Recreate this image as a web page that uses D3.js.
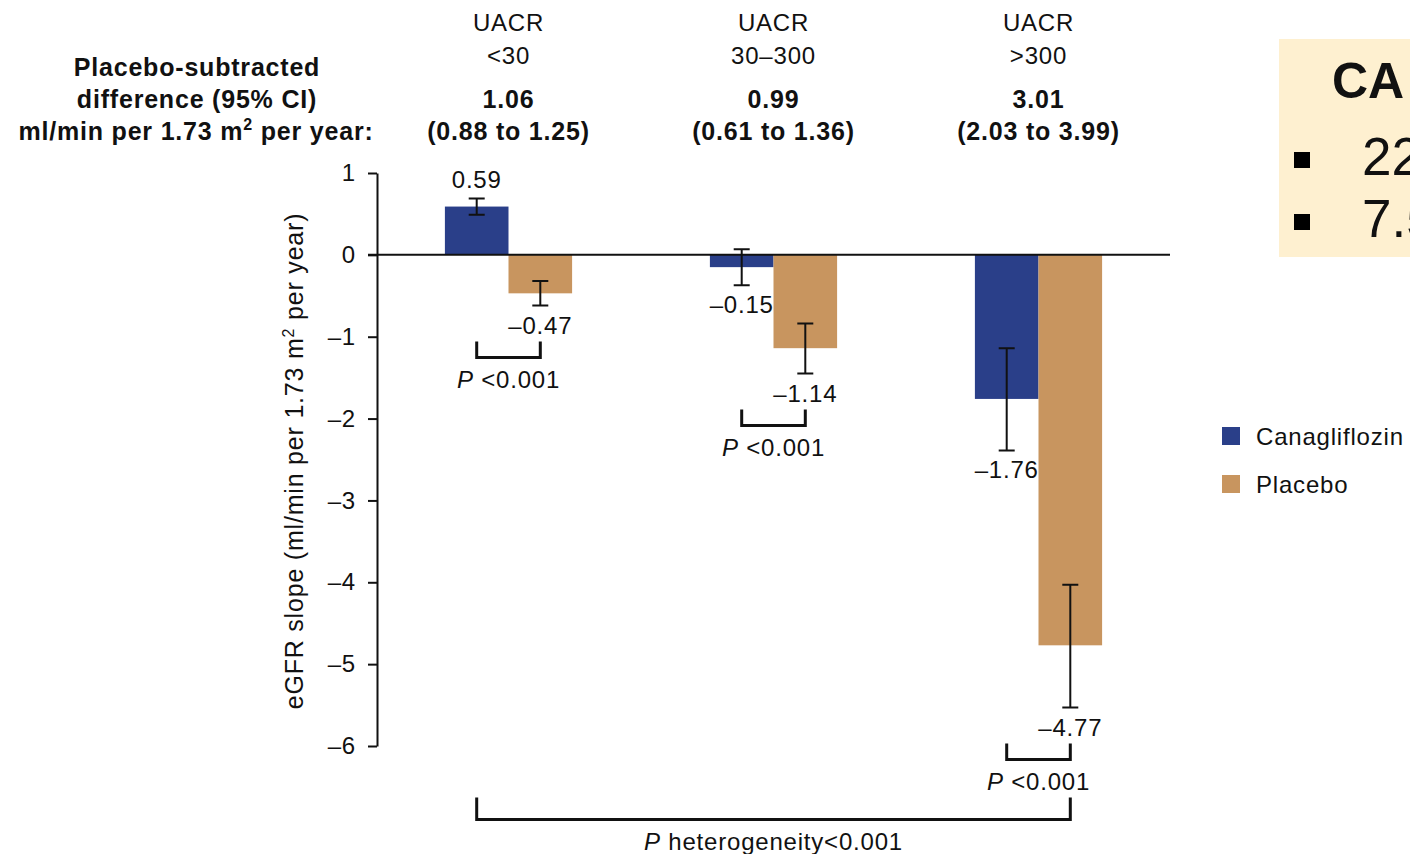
<!DOCTYPE html>
<html>
<head>
<meta charset="utf-8">
<script src="https://cdn.jsdelivr.net/npm/d3@7"></script>
<style>
  body { margin: 0; background: #fff; }
  text { font-family: "Liberation Sans", Arial, Helvetica, sans-serif; fill: #111; letter-spacing: 0.8px; }
</style>
</head>
<body>
<div id="chart"></div>
<script>
/*********************************************************** DATA *****/

const groups = ["<30", "30–300", ">300"];
const diffs = ["1.06", "0.99", "3.01"];
const diffCI = ["(0.88 to 1.25)", "(0.61 to 1.36)", "(2.03 to 3.99)"];
const series = ["Canagliflozin", "Placebo"];
const canaValues = [0.59, -0.15, -1.76];
const canaLow = [0.49, -0.37, -2.39];
const canaHigh = [0.69, 0.07, -1.14];
const placeboValues = [-0.47, -1.14, -4.77];
const placeboLow = [-0.62, -1.45, -5.53];
const placeboHigh = [-0.32, -0.84, -4.03];
const pLabels = ["<0.001", "<0.001", "<0.001"];
const yTicks = [1, 0, -1, -2, -3, -4, -5, -6];
const boxLines = ["22", "7.5"];

const colors = { "Canagliflozin": "#2a3f89", "Placebo": "#c8955f" };

/********************************************************** SETUP *****/

const width = 1410, height = 854;

const svg = d3.select("#chart")
  .append("svg")
  .attr("width", width)
  .attr("height", height);

const y = d3.scaleLinear()
  .domain([-6, 1])
  .range([746, 173]);

const x0 = d3.scaleBand()
  .domain(groups)
  .range([376, 1171])
  .paddingInner(0.52)
  .paddingOuter(0.26);

const x1 = d3.scaleBand()
  .domain(series)
  .range([0, x0.bandwidth()]);

const bars = [];
groups.forEach(function(g, i) {
  bars.push({ group: g, serie: "Canagliflozin", v: canaValues[i], lo: canaLow[i], hi: canaHigh[i] });
  bars.push({ group: g, serie: "Placebo", v: placeboValues[i], lo: placeboLow[i], hi: placeboHigh[i] });
});
const cx = function(d) { return x0(d.group) + x1(d.serie) + x1.bandwidth() / 2; };

/*********************************************************** AXIS *****/

const axisX = 377;
const yAxis = svg.append("g")
  .attr("transform", "translate(" + axisX + ",0)")
  .call(d3.axisLeft(y)
    .tickValues(yTicks)
    .tickSize(9)
    .tickSizeOuter(0)
    .tickPadding(12)
    .tickFormat(function(d) { return d < 0 ? "–" + Math.abs(d) : d; }));
yAxis.select(".domain").attr("stroke", "#111").attr("stroke-width", 2);
yAxis.selectAll(".tick line").attr("stroke", "#111").attr("stroke-width", 2);
yAxis.selectAll(".tick text")
  .attr("fill", "#111")
  .style("font-size", "24px")
  .style("font-family", "'Liberation Sans', Arial, sans-serif");

const yLabel = svg.append("text")
  .attr("transform", "translate(303,461) rotate(-90)")
  .attr("text-anchor", "middle")
  .style("font-size", "25px");
yLabel.append("tspan").text("eGFR slope (ml/min per 1.73 m");
yLabel.append("tspan").attr("dy", -9).style("font-size", "16px").text("2");
yLabel.append("tspan").attr("dy", 9).text(" per year)");

/*********************************************************** BARS *****/

svg.append("g").selectAll("rect")
  .data(bars)
  .enter()
  .append("rect")
  .attr("x", function(d) { return x0(d.group) + x1(d.serie); })
  .attr("width", x1.bandwidth())
  .attr("y", function(d) { return y(Math.max(0, d.v)); })
  .attr("height", function(d) { return Math.abs(y(d.v) - y(0)); })
  .attr("fill", function(d) { return colors[d.serie]; });

// zero line
svg.append("line")
  .attr("x1", axisX - 9).attr("x2", 1170)
  .attr("y1", y(0)).attr("y2", y(0))
  .attr("stroke", "#111")
  .attr("stroke-width", 2);

// error bars
const err = svg.append("g")
  .attr("stroke", "#111")
  .attr("stroke-width", 2)
  .attr("fill", "none");
err.selectAll("path")
  .data(bars)
  .enter()
  .append("path")
  .attr("d", function(d) {
    const c = cx(d), w = 8;
    return "M" + (c - w) + "," + y(d.hi) + "H" + (c + w) +
      "M" + c + "," + y(d.hi) + "V" + y(d.lo) +
      "M" + (c - w) + "," + y(d.lo) + "H" + (c + w);
  });

// value labels
svg.append("g").selectAll("text")
  .data(bars)
  .enter()
  .append("text")
  .attr("x", cx)
  .attr("y", function(d) { return d.v > 0 ? y(d.hi) - 10 : y(d.lo) + 28; })
  .attr("text-anchor", "middle")
  .style("font-size", "24px")
  .text(function(d) { return d.v < 0 ? "–" + Math.abs(d.v).toFixed(2) : d.v.toFixed(2); });

/******************************************************* BRACKETS *****/

const brk = svg.append("g");
let lastPBase = 0;
groups.forEach(function(g, i) {
  const xa = x0(g) + x1("Canagliflozin") + x1.bandwidth() / 2;
  const xb = x0(g) + x1("Placebo") + x1.bandwidth() / 2;
  const top = y(Math.min(canaLow[i], placeboLow[i])) + 36;
  const bottom = top + 16;
  brk.append("path")
    .attr("d", "M" + xa + "," + top + "V" + bottom + "H" + xb + "V" + top)
    .attr("fill", "none")
    .attr("stroke", "#111")
    .attr("stroke-width", 3);
  const t = brk.append("text")
    .attr("x", (xa + xb) / 2)
    .attr("y", bottom + 30)
    .attr("text-anchor", "middle")
    .style("font-size", "24px");
  t.append("tspan").style("font-style", "italic").text("P");
  t.append("tspan").text(" " + pLabels[i]);
  lastPBase = bottom + 30;
});

const hx1 = x0(groups[0]) + x1("Canagliflozin") + x1.bandwidth() / 2;
const hx2 = x0(groups[2]) + x1("Placebo") + x1.bandwidth() / 2;
const hTop = lastPBase + 8, hBottom = hTop + 22;
brk.append("path")
  .attr("d", "M" + hx1 + "," + hTop + "V" + hBottom + "H" + hx2 + "V" + hTop)
  .attr("fill", "none")
  .attr("stroke", "#111")
  .attr("stroke-width", 3);
const ht = brk.append("text")
  .attr("x", (hx1 + hx2) / 2)
  .attr("y", hBottom + 30)
  .attr("text-anchor", "middle")
  .style("font-size", "24px");
ht.append("tspan").style("font-style", "italic").text("P");
ht.append("tspan").text(" heterogeneity<0.001");

/********************************************************* HEADER *****/

const head = svg.append("g").attr("text-anchor", "middle");
groups.forEach(function(g, i) {
  const c = x0(g) + x0.bandwidth() / 2;
  head.append("text").attr("x", c).attr("y", 31).style("font-size", "24px").text("UACR");
  head.append("text").attr("x", c).attr("y", 64).style("font-size", "24px").text(g);
  head.append("text").attr("x", c).attr("y", 108).style("font-size", "25px").style("font-weight", "bold").text(diffs[i]);
  head.append("text").attr("x", c).attr("y", 140).style("font-size", "25px").style("font-weight", "bold").text(diffCI[i]);
});

const left = svg.append("g")
  .attr("text-anchor", "middle")
  .style("font-weight", "bold")
  .style("font-size", "25px");
left.append("text").attr("x", 197).attr("y", 76).text("Placebo-subtracted");
left.append("text").attr("x", 197).attr("y", 108).text("difference (95% CI)");
const unit = left.append("text").attr("x", 196).attr("y", 140);
unit.append("tspan").text("ml/min per 1.73 m");
unit.append("tspan").attr("dy", -10).style("font-size", "16px").text("2");
unit.append("tspan").attr("dy", 10).text(" per year:");

/********************************************************* LEGEND *****/

const legend = svg.append("g").selectAll("g")
  .data(series)
  .enter()
  .append("g")
  .attr("transform", function(d, i) { return "translate(1222," + (427 + i * 48) + ")"; });
legend.append("rect")
  .attr("width", 18).attr("height", 18)
  .attr("fill", function(d) { return colors[d]; });
legend.append("text")
  .attr("x", 34).attr("y", 18)
  .style("font-size", "24px")
  .text(function(d) { return d; });

/************************************************************ BOX *****/

// side box, cut by the right edge like in the source slide
const box = svg.append("g");
box.append("rect")
  .attr("x", 1279).attr("y", 39)
  .attr("width", 140).attr("height", 218)
  .attr("fill", "#fef0d0");
box.append("text")
  .attr("x", 1332).attr("y", 98)
  .style("font-size", "50px")
  .style("font-weight", "bold")
  .style("letter-spacing", "0px")
  .text("CA");
boxLines.forEach(function(s, i) {
  box.append("rect")
    .attr("x", 1294).attr("y", 152 + i * 62)
    .attr("width", 16).attr("height", 16)
    .attr("fill", "#000");
  box.append("text")
    .attr("x", 1362).attr("y", 175 + i * 62)
    .style("font-size", "53px")
    .style("letter-spacing", "0px")
    .text(s);
});
</script>
</body>
</html>
